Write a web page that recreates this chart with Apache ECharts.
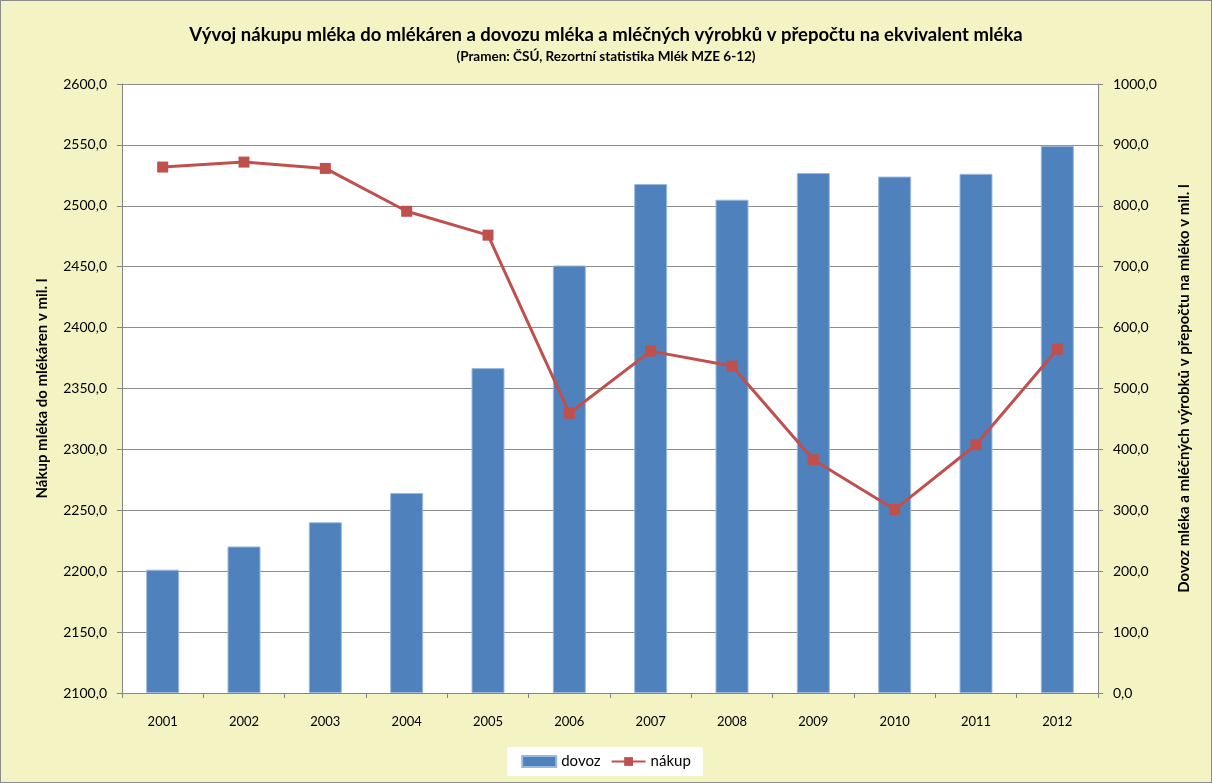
<!DOCTYPE html>
<html>
<head>
<meta charset="utf-8">
<script src="https://cdn.jsdelivr.net/npm/echarts@6/dist/echarts.min.js"></script>
<style>
  html, body { margin: 0; padding: 0; background: #ffffff; }
  #chart { width: 1210px; height: 781px; border: 1px solid #8c8c8c; background: #f3f3c4; }
</style>
</head>
<body>
<div id="chart"></div>
<script>
// roky
const years = ['2001', '2002', '2003', '2004', '2005', '2006', '2007', '2008', '2009', '2010', '2011', '2012']
// dovoz (prava osa)
const dovoz = [202.5, 240.6, 280.4, 328.5, 533.5, 702.0, 835.8, 810.0, 853.8, 848.0, 852.6, 898.5]
// nakup (leva osa)
const nakup = [2531.8, 2535.9, 2530.7, 2495.5, 2475.9, 2329.7, 2380.7, 2368.4, 2291.5, 2250.6, 2303.8, 2382.3]

const font = 'Lato, "Open Sans", sans-serif'
const fmt = v => v.toFixed(1).replace('.', ',')

const chart = echarts.init(document.getElementById('chart'))
chart.setOption({
  backgroundColor: '#f3f3c4',
  animation: false,
  textStyle: { fontFamily: font },
  title: {
    text: 'Vývoj nákupu mléka do mlékáren a dovozu mléka a mléčných výrobků v přepočtu na ekvivalent mléka',
    subtext: '(Pramen: ČSÚ, Rezortní statistika Mlék MZE 6-12)',
    left: 'center',
    top: 20,
    itemGap: 5,
    textStyle: { fontFamily: font, fontSize: 18.5, fontWeight: 'bold', color: '#000' },
    subtextStyle: { fontFamily: font, fontSize: 13.5, fontWeight: 'bold', color: '#000' }
  },
  grid: {
    left: 121,
    right: 113,
    top: 83,
    bottom: 89,
    show: true,
    backgroundColor: '#ffffff',
    borderWidth: 0
  },
  legend: {
    bottom: 6,
    left: 'center',
    backgroundColor: '#ffffff',
    padding: [7, 12, 7, 14],
    itemGap: 10,
    itemWidth: 34,
    itemHeight: 11,
    textStyle: { fontFamily: font, fontSize: 15, color: '#000', padding: [0, 0, 0, 0] },
    data: [
      { name: 'dovoz', icon: 'rect' },
      { name: 'nákup' }
    ]
  },
  xAxis: {
    type: 'category',
    data: years,
    axisLine: { lineStyle: { color: '#868686', width: 1 } },
    axisTick: { show: true, length: 5, lineStyle: { color: '#868686' } },
    axisLabel: { color: '#000', fontSize: 13, margin: 22, fontFamily: font }
  },
  yAxis: [
    {
      type: 'value',
      min: 2100,
      max: 2600,
      interval: 50,
      name: 'Nákup mléka do mlékáren v mil. l',
      nameLocation: 'middle',
      nameGap: 72,
      nameRotate: 90,
      nameTextStyle: { fontFamily: font, fontSize: 15, fontWeight: 'bold', color: '#000' },
      axisLine: { show: true, lineStyle: { color: '#868686' } },
      axisTick: { show: true, length: 5, lineStyle: { color: '#868686' } },
      axisLabel: { color: '#000', fontSize: 14, margin: 15, formatter: fmt, fontFamily: font },
      splitLine: { lineStyle: { color: '#8c8c8c', width: 1 } }
    },
    {
      type: 'value',
      min: 0,
      max: 1000,
      interval: 100,
      name: 'Dovoz mléka a mléčných výrobků v přepočtu na mléko v mil. l',
      nameLocation: 'middle',
      nameGap: 79,
      nameRotate: 90,
      nameTextStyle: { fontFamily: font, fontSize: 15, fontWeight: 'bold', color: '#000' },
      axisLine: { show: true, lineStyle: { color: '#868686' } },
      axisTick: { show: true, length: 5, lineStyle: { color: '#868686' } },
      axisLabel: { color: '#000', fontSize: 14, margin: 15, formatter: fmt, fontFamily: font },
      splitLine: { show: false }
    }
  ],
  series: [
    {
      name: 'dovoz',
      type: 'bar',
      yAxisIndex: 1,
      data: dovoz,
      barWidth: 33,
      itemStyle: { color: '#4f81bd', borderColor: '#9bb9de', borderWidth: 1 }
    },
    {
      name: 'nákup',
      type: 'line',
      yAxisIndex: 0,
      data: nakup,
      symbol: 'rect',
      symbolSize: 11,
      color: '#c0504d',
      lineStyle: { width: 3, color: '#c0504d' },
      itemStyle: { color: '#c0504d' }
    }
  ]
})
</script>
</body>
</html>
